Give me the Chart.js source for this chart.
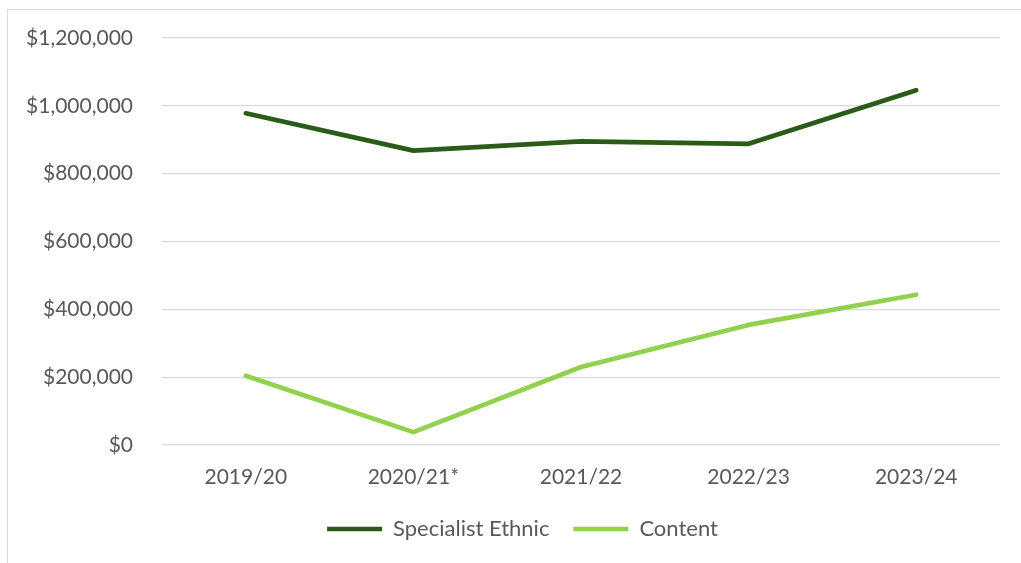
<!DOCTYPE html>
<html>
<head>
<meta charset="utf-8">
<title>Funding by year</title>
<script src="https://cdn.jsdelivr.net/npm/chart.js@4/dist/chart.umd.min.js"></script>
<style>
    html, body { margin: 0; padding: 0; background: #ffffff; overflow: hidden; }
    #frame {
        position: absolute; left: 7px; top: 9px; width: 1100px; height: 600px;
        border: 1.5px solid #d9d9d9; box-sizing: border-box;
    }
    #wrap { position: absolute; left: 0; top: 0; width: 1021px; height: 563px; }
</style>
</head>
<body>
<div id="frame"></div>
<div id="wrap"><canvas id="funding-chart"></canvas></div>
<script>
// financial years on the x axis
const YEARS = ["2019/20", "2020/21*", "2021/22", "2022/23", "2023/24"];
// dollars per year for each line
const SPECIALIST_ETHNIC = [978000, 868000, 895000, 888000, 1046000];
const CONTENT = [204000, 38000, 230000, 354000, 443000];
// y axis ticks
const Y_TICKS = [0, 200000, 400000, 600000, 800000, 1000000, 1200000];

const DARK_GREEN = "#2b5b19";
const LIGHT_GREEN = "#92d050";
const TEXT_GREY = "#595959";
const FONT = "Lato";

// format a number as $1,200,000
const money = (v) => "$" + v.toLocaleString("en-US");

// nudge the legend a bit to the right of the canvas centre
const legendShift = {
    id: "legendShift",
    afterLayout: (chart) => {
        chart.legend.left += 19;
        chart.legend.right += 19;
    },
};

const context = document.getElementById("funding-chart").getContext("2d");
const fundingChart = new Chart(context, {
    type: "line",
    data: {
        labels: YEARS,
        datasets: [
            {
                label: "Specialist Ethnic",
                data: SPECIALIST_ETHNIC,
                borderColor: DARK_GREEN,
                backgroundColor: DARK_GREEN,
                borderWidth: 4.7,
                borderCapStyle: "round",
                borderJoinStyle: "round",
                pointRadius: 0,
                tension: 0,
            },
            {
                label: "Content",
                data: CONTENT,
                borderColor: LIGHT_GREEN,
                backgroundColor: LIGHT_GREEN,
                borderWidth: 4.7,
                borderCapStyle: "round",
                borderJoinStyle: "round",
                pointRadius: 0,
                tension: 0,
            },
        ],
    },
    plugins: [legendShift],
    options: {
        responsive: true,
        maintainAspectRatio: false,
        animation: false,
        layout: {
            padding: { left: 7, right: 21, top: 38, bottom: 13 },
        },
        plugins: {
            tooltip: { enabled: false },
            legend: {
                position: "bottom",
                labels: {
                    usePointStyle: true,
                    pointStyle: "line",
                    pointStyleWidth: 55,
                    boxHeight: 4,
                    padding: 24,
                    color: TEXT_GREY,
                    font: { family: FONT, size: 22 },
                },
            },
        },
        scales: {
            x: {
                offset: true,
                grid: { display: false, drawTicks: false },
                border: { display: false },
                ticks: {
                    color: TEXT_GREY,
                    padding: 20,
                    font: { family: FONT, size: 21 },
                },
                afterFit: (scale) => { scale.height = 49; },
            },
            y: {
                min: 0,
                max: 1200000,
                grid: { color: "#d9d9d9", lineWidth: 1.3, drawTicks: false },
                border: { display: false },
                afterBuildTicks: (scale) => {
                    scale.ticks = Y_TICKS.map((v) => ({ value: v }));
                },
                afterFit: (scale) => {
                    scale.width = 155;
                    scale.paddingTop = 0;
                    scale.paddingBottom = 0;
                },
                ticks: {
                    color: TEXT_GREY,
                    padding: 29,
                    font: { family: FONT, size: 21 },
                    callback: (value) => money(value),
                },
            },
        },
    },
});
</script>
</body>
</html>
